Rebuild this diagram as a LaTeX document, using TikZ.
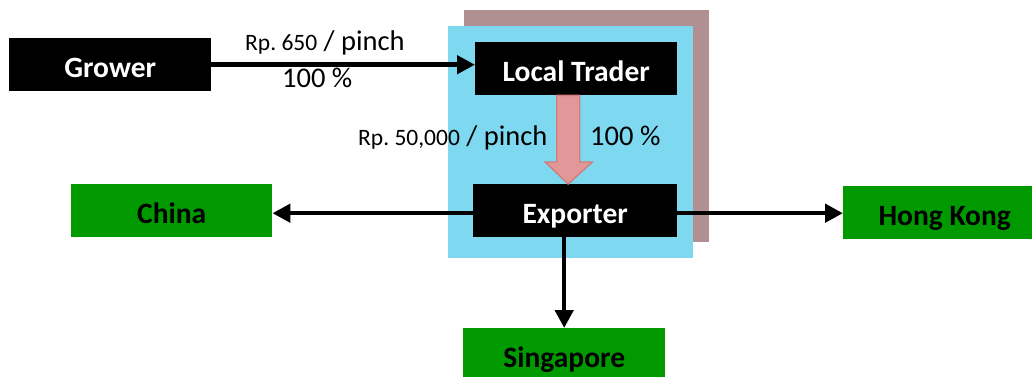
\documentclass[tikz,border=0pt]{standalone}
\usepackage{fontspec}
\setmainfont{Carlito}
\usetikzlibrary{arrows.meta,calc}
\definecolor{shadowbrown}{RGB}{176,144,144}
\definecolor{panelblue}{RGB}{125,216,240}
\definecolor{boxgreen}{RGB}{0,153,0}
\definecolor{pinkedge}{RGB}{210,124,124}
\definecolor{pinkdark}{RGB}{226,152,152}
\definecolor{pinklight}{RGB}{253,242,242}
\begin{document}
\begin{tikzpicture}[x=1pt,y=-1pt,
  boxbase/.style={inner sep=0pt, anchor=north west, text height=25pt, text depth=0pt,
    font=\fontsize{29.5}{31}\selectfont\bfseries},
  blackbox/.style={boxbase, fill=black, text=white},
  greenbox/.style={boxbase, fill=boxgreen, text=black},
  conn/.style={line width=4.5pt, -{Triangle[length=18pt,width=18pt]}},
  lbl/.style={inner sep=0pt, anchor=base west, font=\fontsize{28.5}{30}\selectfont}
]
\useasboundingbox (0,0) rectangle (1032,376);
\clip (0,0) rectangle (1032,376);
% panels
\fill[shadowbrown] (464,10) rectangle (709,242);
\fill[panelblue] (448,26) rectangle (693,258);
% boxes
\node[blackbox, minimum width=202pt, minimum height=53pt] (grower) at (9,38) {Grower};
\node[blackbox, minimum width=202pt, minimum height=53pt] (lt) at (475,42) {Local Trader};
\node[blackbox, minimum width=204pt, minimum height=53pt] (exp) at (473,184) {Exporter};
\node[greenbox, minimum width=201pt, minimum height=53pt] (china) at (71,184) {China};
\node[greenbox, minimum width=203pt, minimum height=53pt] (hk) at (843,186) {Hong Kong};
\node[greenbox, minimum width=202pt, minimum height=53pt] (sing) at (463,328) {Singapore};
% pink block arrow
\coordinate (pa) at ($(lt.south)+(-8,0)$);
\coordinate (pb) at ($(exp.north)+(-7,0)$);
\fill[black!75, opacity=0.75, xshift=3pt, yshift=-3pt]
  ($(pa)+(-11.5,0)$) -- ($(pa)+(11.5,0)$) -- ($(pb)+(11.5,-22)$) -- ($(pb)+(24,-22)$)
  -- (pb) -- ($(pb)+(-23,-22)$) -- ($(pb)+(-11.5,-22)$) -- cycle;
\draw[pinkedge, line width=1.4pt, left color=pinkdark, middle color=pinklight, right color=pinkdark]
  ($(pa)+(-11.5,0)$) -- ($(pa)+(11.5,0)$) -- ($(pb)+(11.5,-22)$) -- ($(pb)+(24,-22)$)
  -- (pb) -- ($(pb)+(-23,-22)$) -- ($(pb)+(-11.5,-22)$) -- cycle;
% connectors
\draw[conn] (grower.east) -- (grower.east -| lt.west);
\draw[conn] ([yshift=-2.5pt]exp.west) -- ([yshift=-2.5pt]exp.west -| china.east);
\draw[conn] ([yshift=-2.5pt]exp.east) -- ([yshift=-2.5pt]exp.east -| hk.west);
\draw[conn] (sing.north |- exp.south) -- (sing.north);
% labels
\node[lbl] (p1) at (245,50) {{\fontsize{23.5}{25}\selectfont Rp.~650} / pinch};
\node[lbl] (q1) at (282,87) {100 \%};
\node[lbl] (p2) at (358,145) {{\fontsize{23.5}{25}\selectfont Rp.~50,000} / pinch};
\node[lbl] (q2) at (590,145) {100 \%};
\end{tikzpicture}
\end{document}
